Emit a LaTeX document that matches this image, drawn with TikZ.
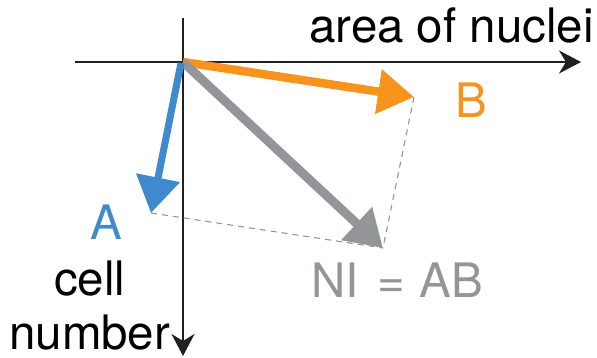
\documentclass[tikz,border=0pt]{standalone}
\usepackage{fontspec}
\setmainfont{TeX Gyre Heros}
\usetikzlibrary{arrows.meta}
\definecolor{vblue}{HTML}{3E8ACC}
\definecolor{vorange}{HTML}{F7941D}
\definecolor{vgray}{HTML}{939598}
\definecolor{vblack}{HTML}{231F20}
\tikzset{
  axis/.style={draw=vblack, line width=2pt, -{Stealth[length=22pt, width=23pt, inset=7pt]}},
  vec/.style={line width=8pt, -{Triangle[length=36pt, width=43pt]}},
  guide/.style={draw=vgray, line width=1.1pt, dash pattern=on 6pt off 5pt},
  lbl/.style={font=\fontsize{47.5}{50}\selectfont, inner sep=0pt, text depth=0pt, anchor=base west},
}
\begin{document}
\begin{tikzpicture}[x=1pt, y=-1pt]
\useasboundingbox (0,0) rectangle (597,358);
% coordinates
\coordinate (O) at (183,62);
\coordinate (Ob) at (181,63);
\coordinate (Xs) at (75,62);
\coordinate (Xe) at (581,62);
\coordinate (Ys) at (183,18);
\coordinate (Ye) at (183,356);
\coordinate (Atip) at (151,213);
\coordinate (Btip) at (414,97);
\coordinate (Ntip) at (383,248);
% axes
\draw[axis] (Xs) -- (Xe);
\draw[axis] (Ys) -- (Ye);
% guides
\draw[guide] (Atip) -- (Ntip);
\draw[guide] (Btip) -- (Ntip);
% vectors
\draw[vec, vorange, line width=8.5pt] (O) -- (Btip);
\draw[vec, vgray, line width=9pt] (O) -- (Ntip);
\draw[vec, vblue, line width=7pt] (Ob) -- (Atip);
% labels
\node[lbl] (xlab) at (309,43) {area of nuclei};
\node[lbl, text=vorange] (blab) at (455,118) {B};
\node[lbl, text=vblue] (alab) at (90,240) {A};
\node[lbl, text=vgray] (nlab) at (311,297) {NI\hspace{0.4em}=\hspace{0.3em}AB};
\node[lbl] (cell) at (54,295) {cell};
\node[lbl] (num) at (9,349) {number};
\end{tikzpicture}
\end{document}
